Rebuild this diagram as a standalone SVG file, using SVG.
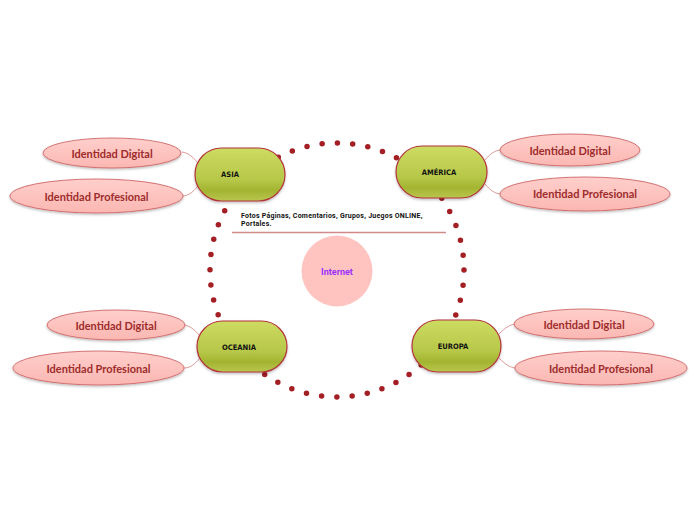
<svg xmlns="http://www.w3.org/2000/svg" width="696" height="520" viewBox="0 0 696 520">
<defs>
<linearGradient id="gNode" x1="0" y1="0" x2="0" y2="1">
<stop offset="0" stop-color="#cddc62"/>
<stop offset="0.6" stop-color="#b7c748"/>
<stop offset="0.8" stop-color="#a3b431"/>
<stop offset="1" stop-color="#b9c64e"/>
</linearGradient>
<linearGradient id="gEll" x1="0" y1="0" x2="0" y2="1">
<stop offset="0" stop-color="#ffcfcb"/>
<stop offset="1" stop-color="#fbb7b2"/>
</linearGradient>
<filter id="sh" x="-10%" y="-20%" width="120%" height="150%">
<feDropShadow dx="0" dy="1.5" stdDeviation="1" flood-color="#000" flood-opacity="0.25"/>
</filter>
</defs>
<style>
.node rect{fill:url(#gNode);stroke:#b2343c;stroke-width:1.2;filter:url(#sh)}
.node text{font-family:"DejaVu Sans Condensed","DejaVu Sans",sans-serif;font-weight:bold;font-size:7.5px;fill:#111;text-anchor:middle;dominant-baseline:central}
.leaf ellipse{fill:url(#gEll);stroke:#c9585a;stroke-width:0.8;filter:url(#sh)}
.leaf text{font-family:Lato,"Noto Sans",sans-serif;font-weight:bold;font-size:11px;fill:#9e2c2c;text-anchor:middle;dominant-baseline:central}
.link{fill:none;stroke:#dc9a98;stroke-width:1}
.ring{fill:none;stroke:#a31f24;stroke-width:5.5;stroke-linecap:round;stroke-dasharray:0 15.35}
</style>
<rect width="696" height="520" fill="#fff"/>
<g id="connectors">
<circle class="ring" cx="337" cy="270" r="127"/>
<path class="link" d="M198,163 C192,156 188,153 182,152"/>
<path class="link" d="M198,186 C192,193 188,196 182,196"/>
<path class="link" d="M485,160 C490,154 494,151 500,150"/>
<path class="link" d="M485,184 C490,190 494,193 500,194"/>
<path class="link" d="M200,336 C194,329 190,326 184,325"/>
<path class="link" d="M200,358 C194,365 190,368 184,368"/>
<path class="link" d="M499,334 C505,328 509,325 515,324"/>
<path class="link" d="M499,358 C505,364 509,367 515,368"/>
<line x1="232" y1="232.5" x2="446" y2="232.5" stroke="#d08a88" stroke-width="1.6"/>
</g>
<g id="note">
<text font-family="Roboto,'Liberation Sans',sans-serif" font-weight="bold" font-size="7" letter-spacing="0.25" fill="#111"><tspan x="241" y="218">Fotos Páginas, Comentarios, Grupos, Juegos ONLINE,</tspan><tspan x="241" y="226">Portales.</tspan></text>
</g>
<g id="internet">
<circle cx="337" cy="271" r="35.5" fill="#ffc4c0"/>
<text x="337" y="272" font-family="Roboto,'Liberation Sans',sans-serif" font-weight="bold" font-size="9" fill="#9b30ff" text-anchor="middle" dominant-baseline="central">Internet</text>
</g>
<g id="asia" class="node"><rect x="195" y="148" width="90" height="53" rx="26.5"/><text x="230" y="174">ASIA</text></g>
<g id="america" class="node"><rect x="396" y="146" width="91" height="52" rx="26"/><text x="439" y="172">AMÉRICA</text></g>
<g id="oceania" class="node"><rect x="197" y="321" width="90" height="51" rx="25.5"/><text x="239" y="347">OCEANIA</text></g>
<g id="europa" class="node"><rect x="412" y="320" width="89" height="52" rx="26"/><text x="453" y="346">EUROPA</text></g>
<g id="asia-digital" class="leaf"><ellipse cx="112" cy="153" rx="69" ry="15"/><text x="112" y="153">Identidad Digital</text></g>
<g id="asia-profesional" class="leaf"><ellipse cx="96.5" cy="196" rx="86.5" ry="17"/><text x="96.5" y="196">Identidad Profesional</text></g>
<g id="america-digital" class="leaf"><ellipse cx="570" cy="150" rx="70" ry="16"/><text x="570" y="150">Identidad Digital</text></g>
<g id="america-profesional" class="leaf"><ellipse cx="585" cy="194" rx="85" ry="17"/><text x="585" y="193">Identidad Profesional</text></g>
<g id="oceania-digital" class="leaf"><ellipse cx="116" cy="325" rx="69" ry="15"/><text x="116" y="325">Identidad Digital</text></g>
<g id="oceania-profesional" class="leaf"><ellipse cx="98.5" cy="368" rx="85.5" ry="17"/><text x="98.5" y="368">Identidad Profesional</text></g>
<g id="europa-digital" class="leaf"><ellipse cx="584" cy="324" rx="70" ry="15"/><text x="584" y="324">Identidad Digital</text></g>
<g id="europa-profesional" class="leaf"><ellipse cx="601" cy="368" rx="86" ry="17"/><text x="601" y="368">Identidad Profesional</text></g>
</svg>
